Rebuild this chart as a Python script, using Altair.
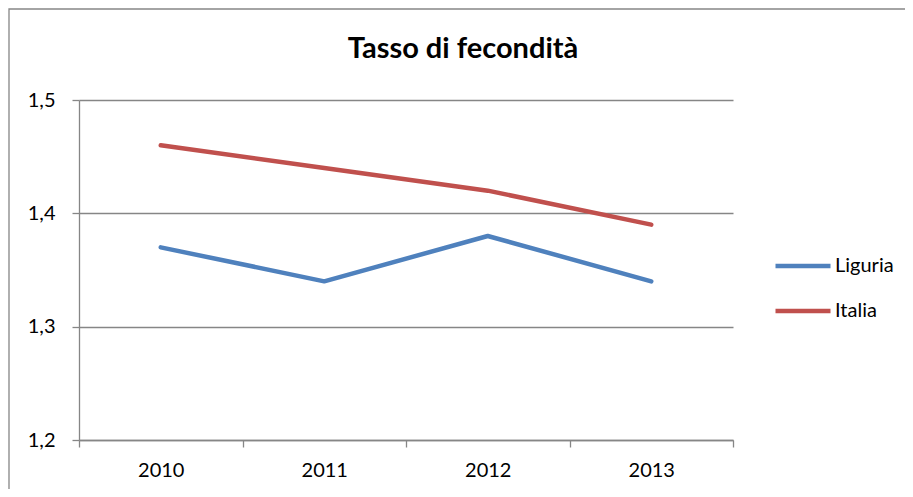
import altair as alt
import pandas as pd

years = ["2010", "2011", "2012", "2013"]
series = ["Liguria", "Italia"]
liguria = [1.37, 1.34, 1.38, 1.34]
italia = [1.46, 1.44, 1.42, 1.39]
colors = ["#4F81BD", "#C0504D"]
title_text = "Tasso di fecondità"

rows = []
for name, vals in zip(series, [liguria, italia]):
    for y, v in zip(years, vals):
        rows.append({"anno": y, "serie": name, "valore": v})
df = pd.DataFrame(rows)

FONT = "Lato"
GRID = "#868686"

frame = alt.Chart(pd.DataFrame({"k": [0]})).mark_rect(
    fill=None, stroke=GRID, strokeWidth=1.3
).encode(
    x=alt.value(-70), x2=alt.value(838), y=alt.value(-91), y2=alt.value(420)
)

title = alt.Chart(pd.DataFrame({"t": [title_text]})).mark_text(
    font=FONT, fontSize=29, fontWeight="bold", color="black",
    align="center", baseline="alphabetic"
).encode(x=alt.value(384), y=alt.value(-42), text="t:N")

lines = alt.Chart(df).mark_line(strokeWidth=4.5, strokeCap="round", strokeJoin="round").encode(
    x=alt.X("anno:O", sort=years,
            scale=alt.Scale(paddingInner=0, paddingOuter=0),
            axis=alt.Axis(title=None, labelAngle=0, tickBand="extent",
                          labelPadding=13, tickSize=7, domainColor=GRID,
                          tickColor=GRID, grid=False)),
    y=alt.Y("valore:Q", scale=alt.Scale(domain=[1.2, 1.5], nice=False, zero=False),
            axis=alt.Axis(title=None, values=[1.2, 1.3, 1.4, 1.5],
                          labelExpr="replace(format(datum.value, '.1f'), '.', ',')",
                          tickSize=7, labelPadding=17, domainColor=GRID,
                          tickColor=GRID, gridColor=GRID, grid=True)),
    color=alt.Color("serie:N", sort=series,
                    scale=alt.Scale(domain=series, range=colors),
                    legend=alt.Legend(title=None, orient="none", legendX=694, legendY=136,
                                      symbolType="stroke", symbolSize=3025,
                                      symbolStrokeWidth=4.5, labelOffset=2,
                                      rowPadding=5, padding=0)),
)

chart = alt.layer(frame, title, lines).properties(
    width=654,
    height=340,
    autosize=alt.AutoSizeParams(type="none"),
    padding={"left": 71, "top": 92, "right": 172, "bottom": 49},
).configure_view(stroke=None).configure_axis(
    labelFont=FONT, labelFontSize=20, labelColor="black", domainWidth=1.3,
    tickWidth=1.3, gridWidth=1.3
).configure_legend(
    labelFont=FONT, labelFontSize=20, labelColor="black"
)

chart.save("out.html", embed_options={"renderer": "svg", "actions": False})
